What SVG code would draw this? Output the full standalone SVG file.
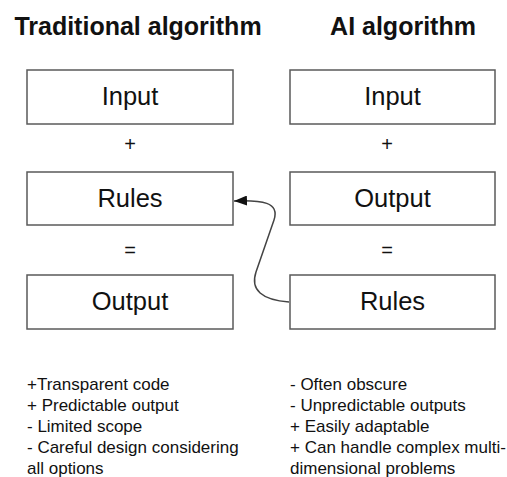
<svg xmlns="http://www.w3.org/2000/svg" width="507" height="477" viewBox="0 0 507 477">
<style>
.box{fill:#fff;stroke:#5a5a5a;stroke-width:1.5}
.lbl{font-family:"Liberation Sans",Arial,sans-serif;font-size:25.5px;fill:#111;text-anchor:middle}
.ttl{font-family:"Liberation Sans",Arial,sans-serif;font-size:25px;font-weight:bold;fill:#111;text-anchor:middle}
.op{font-family:"Liberation Sans",Arial,sans-serif;font-size:20px;fill:#111;text-anchor:middle}
.lst{font-family:"Liberation Sans",Arial,sans-serif;font-size:17px;fill:#111}
.conn{fill:none;stroke:#444;stroke-width:1.5}
</style>
<defs>
<marker id="ah" markerUnits="userSpaceOnUse" markerWidth="14" markerHeight="10" refX="13" refY="5" orient="auto">
<path d="M0,0 L13,5 L0,10 Z" fill="#111"/>
</marker>
</defs>
<rect width="507" height="477" fill="#fff"/>
<text class="ttl" x="138" y="35">Traditional algorithm</text>
<text class="ttl" x="403" y="35">AI algorithm</text>
<g id="t-input"><rect class="box" x="27" y="70" width="206" height="54"/><text class="lbl" x="130" y="105">Input</text></g>
<g id="t-rules"><rect class="box" x="27" y="172" width="206" height="53"/><text class="lbl" x="130" y="207">Rules</text></g>
<g id="t-output"><rect class="box" x="27" y="275" width="206" height="54"/><text class="lbl" x="130" y="310">Output</text></g>
<g id="a-input"><rect class="box" x="290" y="70" width="205" height="54"/><text class="lbl" x="392.5" y="105">Input</text></g>
<g id="a-output"><rect class="box" x="290" y="172" width="205" height="53"/><text class="lbl" x="392.5" y="207">Output</text></g>
<g id="a-rules"><rect class="box" x="290" y="275" width="205" height="54"/><text class="lbl" x="392.5" y="310">Rules</text></g>
<text class="op" x="130" y="151">+</text>
<text class="op" x="387" y="151">+</text>
<text class="op" x="130" y="257">=</text>
<text class="op" x="387" y="257">=</text>
<g id="connectors">
<path class="conn" d="M289,302 C262,300 250,290 256,272 L274,220 C280,202 262,200 234,201" marker-end="url(#ah)"/>
</g>
<g id="notes-left" class="lst">
<text x="27" y="390">+Transparent code</text>
<text x="27" y="411">+ Predictable output</text>
<text x="27" y="432">- Limited scope</text>
<text x="27" y="453">- Careful design considering</text>
<text x="27" y="474">all options</text>
</g>
<g id="notes-right" class="lst">
<text x="290" y="390">- Often obscure</text>
<text x="290" y="411">- Unpredictable outputs</text>
<text x="290" y="432">+ Easily adaptable</text>
<text x="290" y="453">+ Can handle complex multi-</text>
<text x="290" y="474">dimensional problems</text>
</g>
</svg>
